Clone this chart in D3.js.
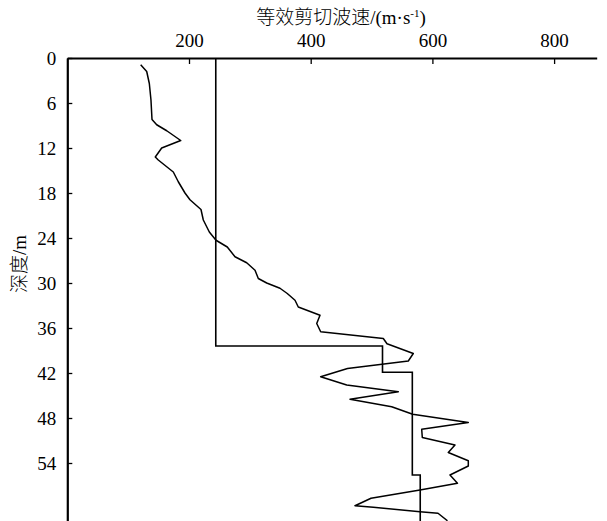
<!DOCTYPE html>
<html>
<head>
<meta charset="utf-8">
<script src="https://cdn.jsdelivr.net/npm/d3@7"></script>
<style>
  body { margin: 0; background: #fff; }
  svg { display: block; }
  text { fill: #000; }
  .axis text { font-family: "Liberation Serif", "Times New Roman", serif; font-size: 19px; fill: #000; }
</style>
</head>
<body>
<div id="chart"></div>
<script>
// measured shear wave velocity profile (m/s vs depth m)
const velocity = [120.6, 130.5, 134.8, 137.5, 139.2, 146.9, 163.4, 186.4, 155.1, 144.6,
  149.5, 174.2, 182.4, 193.4, 201.6, 219.7, 223.5, 233.4, 244.4, 262.9,
  275.6, 294.8, 308.5, 313.9, 327.7, 349.5, 361.5, 374.2, 379.6, 415.3,
  409.9, 416.4, 519.3, 525.4, 568.6, 560.4, 460.5, 416.4, 459.2, 544.0,
  464.6, 533.1, 567.6, 659.0, 582.4, 583.4, 637.1, 626.1, 659.0, 659.0,
  628.9, 641.2, 579.6, 499.1, 472.8, 502.9, 579.6, 609.2, 624.8];
const depth = [0.9, 1.8, 3.4, 5.6, 8.2, 8.9, 9.7, 11.0, 12.0, 13.2,
  13.6, 15.2, 16.5, 18.0, 18.9, 20.2, 21.6, 23.2, 24.3, 25.2,
  26.5, 27.3, 28.3, 29.4, 30.0, 30.7, 31.4, 32.3, 33.2, 34.3,
  35.4, 36.5, 37.4, 38.1, 39.4, 40.4, 41.4, 42.5, 43.6, 44.5,
  45.5, 46.5, 47.5, 48.6, 49.5, 50.6, 51.6, 52.6, 53.7, 54.4,
  55.6, 56.7, 57.6, 58.7, 59.7, 59.9, 60.5, 60.7, 61.7];

// equivalent shear wave velocity layers
const layerTop = [0, 38.4, 41.9, 55.6];
const layerBottom = [38.4, 41.9, 55.6, 62];
const layerVelocity = [244, 518, 567, 580];

const xTicks = [200, 400, 600, 800];
const yTicks = [0, 6, 12, 18, 24, 30, 36, 42, 48, 54];

const width = 607, height = 521;
const margin = { top: 58, left: 67.3 };

const svg = d3.select("#chart")
  .append("svg")
  .attr("width", width)
  .attr("height", height);

const x = d3.scaleLinear()
  .domain([0, 870])
  .range([margin.left, margin.left + 870 * 0.6085]);

const y = d3.scaleLinear()
  .domain([0, 62])
  .range([margin.top, margin.top + 62 * 7.5]);

// step profile
const steps = [];
layerVelocity.forEach((v, i) => {
  steps.push([v, layerTop[i]]);
  steps.push([v, layerBottom[i]]);
});

const line = d3.line()
  .x(d => x(d[0]))
  .y(d => y(d[1]));

svg.append("path")
  .datum(steps)
  .attr("fill", "none")
  .attr("stroke", "#000")
  .attr("stroke-width", 1.6)
  .attr("d", line);

svg.append("path")
  .datum(velocity.map((v, i) => [v, depth[i]]))
  .attr("fill", "none")
  .attr("stroke", "#000")
  .attr("stroke-width", 1.5)
  .attr("stroke-linejoin", "round")
  .attr("d", line);

// Top axis
const xAxis = svg.append("g")
  .attr("class", "axis")
  .attr("transform", `translate(0, ${margin.top})`)
  .call(d3.axisTop(x).tickValues(xTicks).tickSize(-6).tickPadding(11).tickSizeOuter(0));
xAxis.select(".domain").attr("stroke-width", 2.2);
xAxis.selectAll(".tick line").attr("stroke-width", 1.3);

// Left axis
const yAxis = svg.append("g")
  .attr("class", "axis")
  .attr("transform", `translate(${margin.left}, 0)`)
  .call(d3.axisLeft(y).tickValues(yTicks).tickSize(-5).tickPadding(11).tickSizeOuter(0));
yAxis.select(".domain").attr("stroke-width", 2.2);
yAxis.selectAll(".tick line").attr("stroke-width", 1.3);

// Titles
const title = svg.append("text")
  .attr("x", 341)
  .attr("y", 24)
  .attr("text-anchor", "middle")
  .attr("fill", "#000")
  .style("font-family", "'Liberation Serif', 'Noto Sans CJK SC', serif")
  .style("font-size", "19px");
title.append("tspan").style("font-family", "'Noto Sans CJK SC'").style("font-weight", 300).text("等效剪切波速");
title.append("tspan").text("/(m·s");
title.append("tspan").attr("dy", -7).style("font-size", "11px").text("-1");
title.append("tspan").attr("dy", 7).text(")");

const yLabel = svg.append("text")
  .attr("transform", "translate(26, 264) rotate(-90)")
  .attr("text-anchor", "middle")
  .attr("fill", "#000")
  .style("font-size", "19px");
yLabel.append("tspan").style("font-family", "'Noto Sans CJK SC'").style("font-weight", 300).text("深度");
yLabel.append("tspan").style("font-family", "'Liberation Serif', serif").text("/m");
</script>
</body>
</html>
